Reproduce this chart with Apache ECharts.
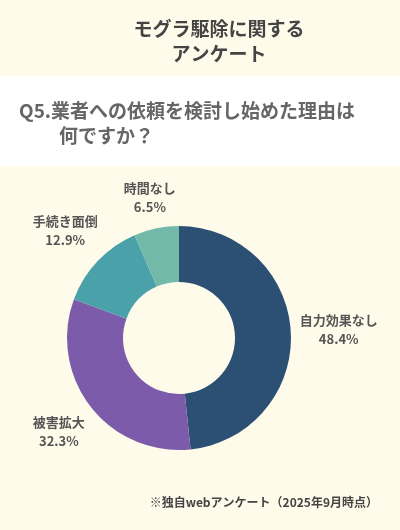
<!DOCTYPE html>
<html>
<head>
<meta charset="utf-8">
<script src="https://cdn.jsdelivr.net/npm/echarts@6/dist/echarts.min.js"></script>
<style>
  html, body { margin: 0; padding: 0; background: #fffbea; }
  #chart { width: 400px; height: 530px; }
</style>
</head>
<body>
<div id="chart"></div>
<script>
// アンケート結果
const categories = ['自力効果なし', '被害拡大', '手続き面倒', '時間なし'];
const values = [48.4, 32.3, 12.9, 6.5];
const colors = ['#2c4f74', '#7c5caa', '#4ba1a9', '#72b9aa'];

const FONT = '"Noto Sans CJK JP", "Noto Sans", sans-serif';
const CENTER = [179, 338];
const INNER_R = 56;
const OUTER_R = 112;
const LABEL_GAP = 8;

const total = values.reduce((a, b) => a + b, 0);

// ラベルを扇形の中心角の延長線上、外側に置く
function midAngle(i) {
    let before = 0;
    for (let k = 0; k < i; k++) before += values[k];
    return (before + values[i] / 2) / total * Math.PI * 2;
}

const chart = echarts.init(document.getElementById('chart'));

chart.setOption({
    backgroundColor: '#fffbea',
    graphic: [
        {
            type: 'rect',
            shape: { x: 0, y: 76, width: 400, height: 90 },
            style: { fill: '#ffffff' },
            silent: true
        }
    ],
    title: [
        {
            text: 'モグラ駆除に関する\nアンケート',
            left: 214,
            top: 11,
            textAlign: 'center',
            textStyle: {
                fontFamily: FONT,
                fontSize: 19,
                fontWeight: 'bold',
                color: '#444444',
                lineHeight: 25,
                align: 'center'
            }
        },
        {
            text: 'Q5.業者への依頼を検討し始めた理由は',
            left: 14,
            top: 96,
            textStyle: {
                fontFamily: FONT,
                fontSize: 19,
                fontWeight: 'bold',
                color: '#666666'
            }
        },
        {
            text: '何ですか？',
            left: 54,
            top: 121,
            textStyle: {
                fontFamily: FONT,
                fontSize: 19,
                fontWeight: 'bold',
                color: '#666666'
            }
        },
        {
            text: '※独自webアンケート（2025年9月時点）',
            right: 17,
            top: 491,
            textStyle: {
                fontFamily: FONT,
                fontSize: 12,
                fontWeight: 'bold',
                color: '#444444'
            }
        }
    ],
    series: [
        {
            type: 'pie',
            center: CENTER,
            radius: [INNER_R, OUTER_R],
            startAngle: 90,
            clockwise: true,
            silent: true,
            data: categories.map((name, i) => ({
                name: name,
                value: values[i],
                itemStyle: { color: colors[i] }
            })),
            label: {
                show: true,
                position: 'outside',
                overflow: 'none',
                formatter: p => p.name + '\n' + p.value.toFixed(1) + '%',
                fontFamily: FONT,
                fontSize: 13,
                fontWeight: 'bold',
                color: '#555555',
                lineHeight: 19
            },
            labelLine: { show: false },
            labelLayout: function (params) {
                const a = midAngle(params.dataIndex);
                const ux = Math.sin(a);
                const uy = -Math.cos(a);
                const w = params.labelRect.width;
                const h = params.labelRect.height;
                const d = OUTER_R + LABEL_GAP + Math.abs(ux) * w / 2 + Math.abs(uy) * h / 2;
                return {
                    x: CENTER[0] + ux * d,
                    y: CENTER[1] + uy * d,
                    align: 'center',
                    verticalAlign: 'middle'
                };
            }
        }
    ]
});
</script>
</body>
</html>
